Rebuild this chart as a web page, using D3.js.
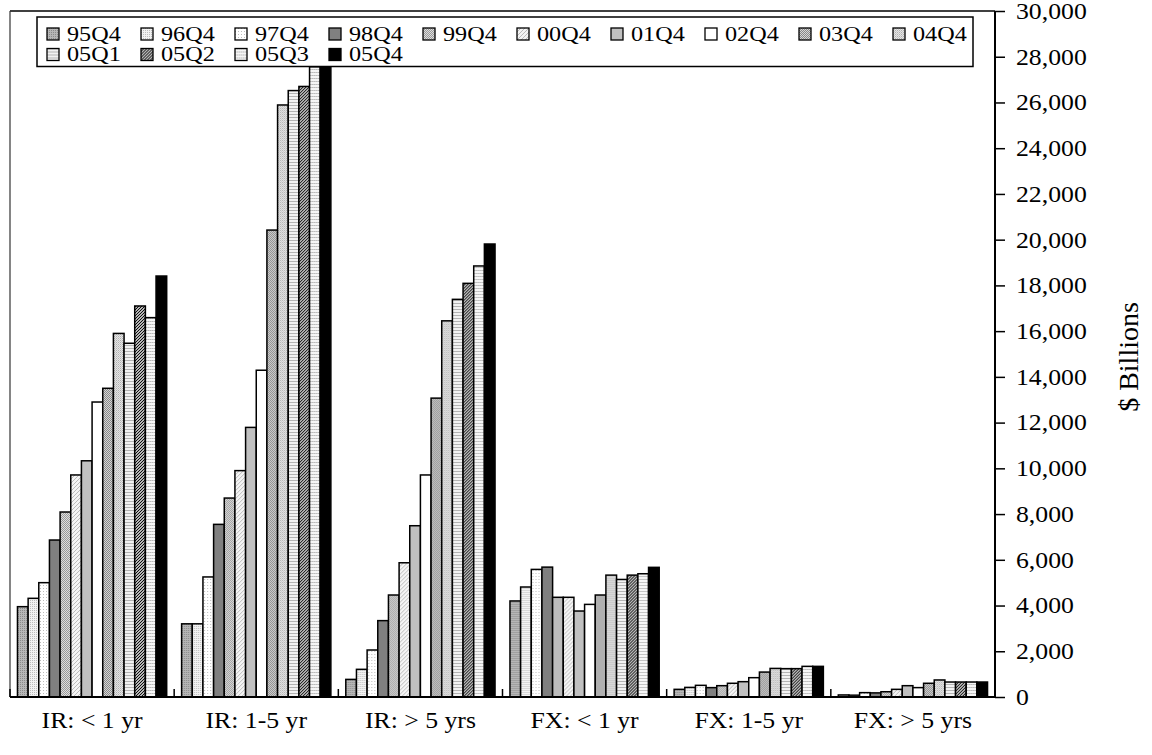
<!DOCTYPE html>
<html>
<head>
<meta charset="utf-8">
<script src="https://cdn.jsdelivr.net/npm/d3@7"></script>
<style>
  html, body { margin: 0; padding: 0; background: #fff; }
  svg { display: block; }
  text { font-family: "Liberation Serif", "Times New Roman", serif; fill: #000; }
</style>
</head>
<body>
<svg id="chart" width="1152" height="755"></svg>
<script>
// ---- data ----
const categories = ["IR: < 1 yr", "IR: 1-5 yr", "IR: > 5 yrs", "FX: < 1 yr", "FX: 1-5 yr", "FX: > 5 yrs"];
const seriesNames = ["95Q4", "96Q4", "97Q4", "98Q4", "99Q4", "00Q4", "01Q4", "02Q4", "03Q4", "04Q4", "05Q1", "05Q2", "05Q3", "05Q4"];
const v95Q4 = [3950, 3200, 770, 4200, 335, 90];
const v96Q4 = [4315, 3200, 1210, 4810, 420, 80];
const v97Q4 = [5000, 5250, 2055, 5580, 510, 190];
const v98Q4 = [6865, 7550, 3340, 5680, 410, 180];
const v99Q4 = [8090, 8700, 4460, 4360, 495, 230];
const v00Q4 = [9710, 9900, 5870, 4360, 600, 335];
const v01Q4 = [10330, 11790, 7490, 3760, 670, 495];
const v02Q4 = [12900, 14290, 9710, 4050, 845, 410];
const v03Q4 = [13500, 20420, 13070, 4460, 1090, 600];
const v04Q4 = [15900, 25890, 16450, 5330, 1250, 745];
const v05Q1 = [15470, 26520, 17390, 5140, 1240, 655];
const v05Q2 = [17100, 26700, 18090, 5330, 1240, 655];
const v05Q3 = [16590, 27560, 18850, 5390, 1340, 655];
const v05Q4 = [18410, 27660, 19810, 5670, 1340, 655];
const yTickValues = [0, 2000, 4000, 6000, 8000, 10000, 12000, 14000, 16000, 18000, 20000, 22000, 24000, 26000, 28000, 30000];
const yTitle = "$ Billions";

const seriesValues = [v95Q4, v96Q4, v97Q4, v98Q4, v99Q4, v00Q4, v01Q4, v02Q4, v03Q4, v04Q4, v05Q1, v05Q2, v05Q3, v05Q4];

// ---- layout ----
const svg = d3.select("#chart");
const L = 10, R = 995, T = 11, B = 697;
const FS = 23;
const SX = 1.12; // reference text is slightly wide

const x0 = d3.scaleBand().domain(categories).range([L, R]).paddingInner(0).paddingOuter(0);
const x1 = d3.scaleBand().domain(seriesNames).range([0, x0.bandwidth()]).paddingInner(0).paddingOuter(0.7);
const y = d3.scaleLinear().domain([0, 30000]).range([B, T]);

// ---- patterns ----
const defs = svg.append("defs");
function mk(id, w, h, bg) {
  const p = defs.append("pattern").attr("id", id).attr("patternUnits", "userSpaceOnUse")
    .attr("width", w).attr("height", h);
  p.append("rect").attr("width", w).attr("height", h).attr("fill", bg);
  return p;
}
let p;
p = mk("p0", 2, 2, "#b6b6b6"); p.append("rect").attr("width", 1).attr("height", 1).attr("fill", "#8a8a8a");
p = mk("p1", 2, 2, "#f2f2f2"); p.append("rect").attr("width", 1).attr("height", 1).attr("fill", "#bdbdbd");
p = mk("p2", 3, 3, "#ffffff"); p.append("rect").attr("width", 1).attr("height", 1).attr("fill", "#bcbcbc");
p = mk("p3", 2, 2, "#808080");
p = mk("p4", 2, 2, "#dedede"); p.append("rect").attr("width", 1).attr("height", 1).attr("fill", "#999");
  p.append("rect").attr("x", 1).attr("y", 1).attr("width", 1).attr("height", 1).attr("fill", "#999");
p = mk("p5", 4, 4, "#f4f4f4"); p.append("path").attr("d", "M0,4 L4,0 M-1,1 L1,-1 M3,5 L5,3").attr("stroke", "#bbb").attr("stroke-width", 1);
p = mk("p6", 2, 2, "#c0c0c0");
p = mk("p7", 2, 2, "#ffffff");
p = mk("p8", 2, 2, "#d6d6d6"); p.append("rect").attr("width", 1).attr("height", 1).attr("fill", "#888");
  p.append("rect").attr("x", 1).attr("y", 1).attr("width", 1).attr("height", 1).attr("fill", "#888");
p = mk("p9", 2, 2, "#e6e6e6"); p.append("rect").attr("width", 1).attr("height", 1).attr("fill", "#b0b0b0");
  p.append("rect").attr("x", 1).attr("y", 1).attr("width", 1).attr("height", 1).attr("fill", "#c8c8c8");
p = mk("p10", 2, 3, "#f2f2f2"); p.append("rect").attr("width", 2).attr("height", 1).attr("fill", "#b4b4b4");
p = mk("p11", 3, 3, "#ffffff"); p.append("path").attr("d", "M0,3 L3,0 M-1,1 L1,-1 M2,4 L4,2").attr("stroke", "#000").attr("stroke-width", 1.1);
p = mk("p12", 2, 3, "#f6f6f6"); p.append("rect").attr("width", 1).attr("height", 1).attr("fill", "#b8b8b8");
  p.append("rect").attr("x", 1).attr("width", 1).attr("height", 1).attr("fill", "#d0d0d0");
p = mk("p13", 2, 2, "#000000");
const fillOf = d3.scaleOrdinal().domain(seriesNames).range(seriesNames.map((d, i) => `url(#p${i})`));

// ---- bars ----
const g = svg.append("g");
categories.forEach((cat, ci) => {
  const gg = g.append("g").attr("transform", `translate(${x0(cat)},0)`);
  gg.selectAll("rect")
    .data(seriesNames.map((s, si) => ({ s, v: seriesValues[si][ci] })))
    .join("rect")
    .attr("x", d => x1(d.s))
    .attr("y", d => y(d.v))
    .attr("width", x1.bandwidth())
    .attr("height", d => y(0) - y(d.v))
    .attr("fill", d => fillOf(d.s))
    .attr("stroke", "#000")
    .attr("stroke-width", 1.5);
});

// ---- frame ----
svg.append("line").attr("x1", L).attr("x2", R).attr("y1", T).attr("y2", T).attr("stroke", "#000").attr("stroke-width", 1.5);
svg.append("line").attr("x1", L).attr("x2", L).attr("y1", T).attr("y2", B).attr("stroke", "#333").attr("stroke-width", 1.2);

// ---- y axis (right) ----
const yAxis = svg.append("g").attr("transform", `translate(${R},0)`)
  .call(d3.axisRight(y).tickValues(yTickValues).tickSize(10).tickPadding(11).tickFormat(d3.format(",")));
yAxis.select(".domain").attr("stroke", "#000").attr("stroke-width", 2).attr("d", `M0,${T}V${B}`);
yAxis.selectAll(".tick line").attr("stroke", "#000").attr("stroke-width", 1.5);
yAxis.selectAll("text").attr("font-size", FS).attr("font-family", "Liberation Serif").attr("fill", "#000")
  .attr("x", 0).attr("transform", `translate(21,0) scale(${SX},1)`);

// ---- x axis (bottom) ----
const xAxis = svg.append("g").attr("transform", `translate(0,${B})`)
  .call(d3.axisBottom(x0).tickSize(0).tickPadding(0));
xAxis.select(".domain").attr("stroke", "#000").attr("stroke-width", 2).attr("d", `M${L},0H${R}`);
xAxis.selectAll("text").attr("font-size", FS).attr("font-family", "Liberation Serif").attr("fill", "#000")
  .attr("dy", 0).attr("y", 31).attr("transform", `scale(${SX},1)`);
// group boundary ticks
const bounds = categories.map(c => x0(c));
svg.append("g").selectAll("line").data(bounds).join("line")
  .attr("x1", d => d).attr("x2", d => d).attr("y1", B).attr("y2", B - 8)
  .attr("stroke", "#000").attr("stroke-width", 1.5);

// ---- y title ----
svg.append("text").attr("transform", "translate(1128,357) rotate(-90)")
  .attr("text-anchor", "middle").attr("dy", "0.35em").attr("font-size", 28).text(yTitle);

// ---- legend ----
const lg = svg.append("g");
lg.append("rect").attr("x", 37).attr("y", 17).attr("width", 936).attr("height", 49.5)
  .attr("fill", "#fff").attr("stroke", "#000").attr("stroke-width", 1.5);
const perRow = 10;
const items = lg.selectAll("g.item").data(seriesNames).join("g").attr("class", "item")
  .attr("transform", (d, i) => `translate(${47 + 94 * (i % perRow)},${28 + 20.5 * Math.floor(i / perRow)})`);
items.append("rect").attr("width", 12).attr("height", 12)
  .attr("fill", d => fillOf(d)).attr("stroke", "#000").attr("stroke-width", 1.3);
items.append("text").attr("x", 0).attr("y", 12.5).attr("font-size", 22)
  .attr("transform", "translate(20,0) scale(1.1,1)").text(d => d);
</script>
</body>
</html>
